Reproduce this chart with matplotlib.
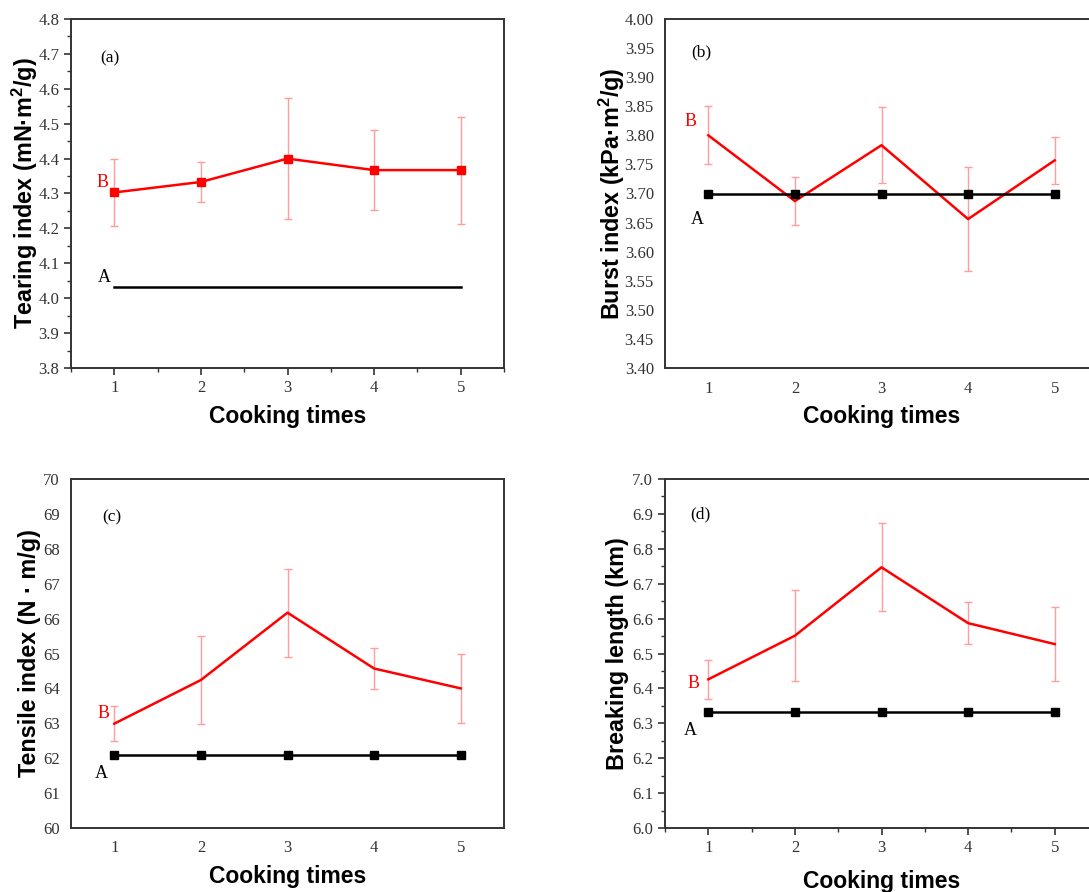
import matplotlib
matplotlib.use('Agg')
import matplotlib.pyplot as plt
from matplotlib.ticker import MultipleLocator, FormatStrFormatter

plt.rcParams['mathtext.fontset'] = 'custom'
plt.rcParams['mathtext.bf'] = 'Liberation Sans:bold'
plt.rcParams['mathtext.rm'] = 'Liberation Sans:bold'
plt.rcParams['mathtext.default'] = 'bf'

cook = [1, 2, 3, 4, 5]

# (a) tearing index
tear_b = [4.303, 4.333, 4.400, 4.367, 4.367]
tear_b_err = [0.095, 0.058, 0.174, 0.115, 0.153]
tear_a = [4.031, 4.031, 4.031, 4.031, 4.031]

# (b) burst index
burst_b = [3.800, 3.687, 3.783, 3.656, 3.757]
burst_b_err = [0.050, 0.042, 0.065, 0.090, 0.040]
burst_a = [3.700, 3.700, 3.700, 3.700, 3.700]

# (c) tensile index
tens_b = [62.99, 64.24, 66.17, 64.57, 64.00]
tens_b_err = [0.50, 1.26, 1.26, 0.60, 1.00]
tens_a = [62.10, 62.10, 62.10, 62.10, 62.10]

# (d) breaking length
brk_b = [6.426, 6.551, 6.747, 6.587, 6.527]
brk_b_err = [0.055, 0.130, 0.126, 0.060, 0.105]
brk_a = [6.331, 6.331, 6.331, 6.331, 6.331]

W, H = 1089, 892
fig = plt.figure(figsize=(W / 100, H / 100), dpi=100)

def add_ax(left, top, right, bottom):
    return fig.add_axes([left / W, 1 - bottom / H, (right - left) / W, (bottom - top) / H])

panels = [
    dict(box=(71, 19, 504, 368), b=tear_b, e=tear_b_err, a=tear_a, ylim=(3.8, 4.8), major=0.1, fmt='%.1f',
         ylabel='Tearing index (mN·m$^2$/g)', tag='(a)', tagpos=(0.09, 0.888), ticks=True, bmark=True, amark=False,
         boff=(-12, 10), aoff=(-10, 10), ylx=-0.106, xly=-0.14),
    dict(box=(665, 19, 1098, 368), b=burst_b, e=burst_b_err, a=burst_a, ylim=(3.4, 4.0), major=0.05, fmt='%.2f',
         ylabel='Burst index (kPa·m$^2$/g)', tag='(b)', tagpos=(0.085, 0.905), ticks=False, bmark=False, amark=True,
         boff=(-18, 14), aoff=(-11, -26), ylx=-0.122, xly=-0.14),
    dict(box=(71, 479, 504, 828), b=tens_b, e=tens_b_err, a=tens_a, ylim=(60, 70), major=1, fmt='%d',
         ylabel='Tensile index (N · m/g)', tag='(c)', tagpos=(0.095, 0.891), ticks=False, bmark=False, amark=True,
         boff=(-11, 10), aoff=(-13, -19), ylx=-0.095, xly=-0.14),
    dict(box=(665, 479, 1098, 828), b=brk_b, e=brk_b_err, a=brk_a, ylim=(6.0, 7.0), major=0.1, fmt='%.1f',
         ylabel='Breaking length (km)', tag='(d)', tagpos=(0.081, 0.90), ticks=True, bmark=False, amark=True,
         boff=(-15, -4), aoff=(-18, -18), ylx=-0.109, xly=-0.152),
]

for p in panels:
    ax = add_ax(*p['box'])
    ax.errorbar(cook, p['b'], yerr=p['e'], fmt='none', ecolor='#ff9c9c', elinewidth=1.0, capsize=3, capthick=1.0, zorder=2)
    ax.plot(cook, p['b'], color='#ff0000', lw=1.8, marker='s' if p['bmark'] else None, ms=6, zorder=3)
    ax.plot(cook, p['a'], color='#000000', lw=1.8, marker='s' if p['amark'] else None, ms=6, zorder=3)

    ax.set_xlim(0.5, 5.5)
    ax.set_ylim(*p['ylim'])
    ax.xaxis.set_major_locator(MultipleLocator(1))
    ax.yaxis.set_major_locator(MultipleLocator(p['major']))
    ax.yaxis.set_major_formatter(FormatStrFormatter(p['fmt']))
    for sp in ax.spines.values():
        sp.set_linewidth(1.4)
        sp.set_color('#333333')
    if p['ticks']:
        ax.xaxis.set_minor_locator(MultipleLocator(0.5))
        ax.yaxis.set_minor_locator(MultipleLocator(p['major'] / 2))
        ax.tick_params(which='major', direction='out', length=5, width=1.2, color='#333333')
        ax.tick_params(which='minor', direction='out', length=3, width=1.0, color='#333333')
    else:
        ax.tick_params(which='both', length=0)
        ax.tick_params(axis='y', pad=8)
        ax.tick_params(axis='x', pad=9)
    for lab in ax.get_xticklabels() + ax.get_yticklabels():
        lab.set_fontfamily('Liberation Serif')
        lab.set_fontsize(12)
        lab.set_color('#333333')

    ax.set_ylabel(p['ylabel'], fontfamily='Liberation Sans', fontweight='bold', fontsize=16.8, va='center')
    ax.yaxis.set_label_coords(p['ylx'], 0.5)
    ax.set_xlabel('Cooking times', fontfamily='Liberation Sans', fontweight='bold', fontsize=16.5, va='center')
    ax.xaxis.set_label_coords(0.5, p['xly'])

    ax.text(p['tagpos'][0], p['tagpos'][1], p['tag'], transform=ax.transAxes, fontfamily='Liberation Serif',
            fontsize=12.5, ha='center', va='center')
    ax.annotate('B', (cook[0], p['b'][0]), xytext=p['boff'], textcoords='offset pixels', color='#ff0000',
                fontfamily='Liberation Serif', fontsize=13, ha='center', va='center')
    ax.annotate('A', (cook[0], p['a'][0]), xytext=p['aoff'], textcoords='offset pixels', color='#000000',
                fontfamily='Liberation Serif', fontsize=13, ha='center', va='center')

fig.savefig('out.png', dpi=100)
